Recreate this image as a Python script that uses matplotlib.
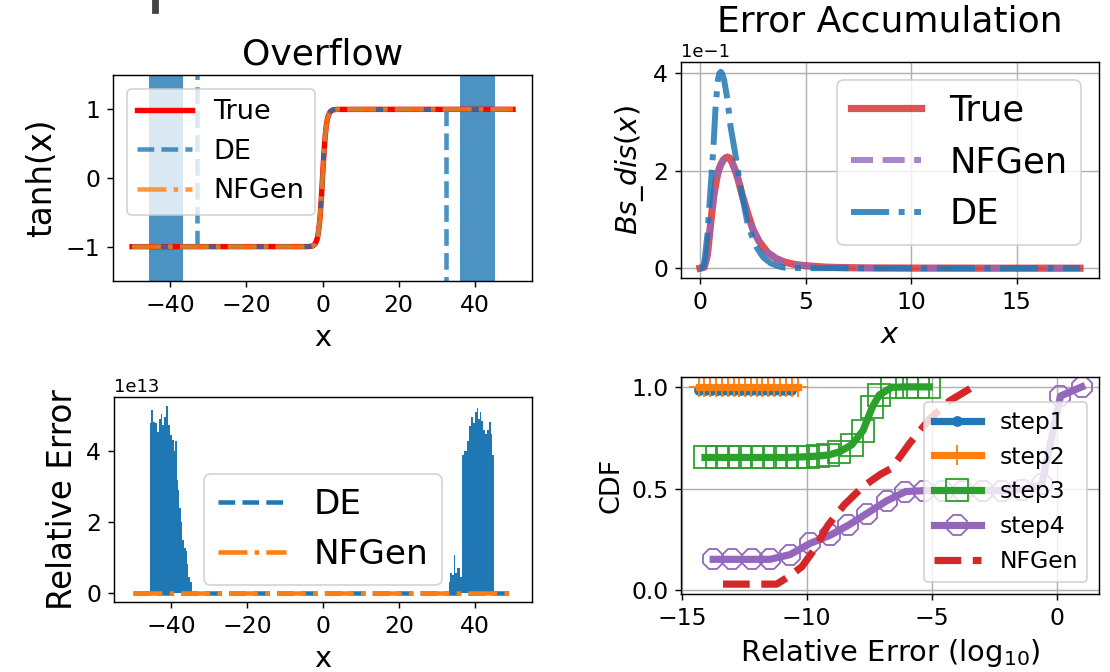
import matplotlib
matplotlib.use('Agg')
import matplotlib.pyplot as plt
from matplotlib.patches import Rectangle

# ---------------- overflow panel: tanh(x) ----------------
tanh_x = [-50, -4, -3, -2.5, -2, -1.5, -1.25, -1, -0.75, -0.5, -0.25, 0,
          0.25, 0.5, 0.75, 1, 1.25, 1.5, 2, 2.5, 3, 4, 50]
tanh_true = [-1, -0.9993, -0.9951, -0.9866, -0.964, -0.9051, -0.8483, -0.7616,
             -0.6351, -0.4621, -0.2449, 0, 0.2449, 0.4621, 0.6351, 0.7616,
             0.8483, 0.9051, 0.964, 0.9866, 0.9951, 0.9993, 1]
tanh_de = list(tanh_true)      # DE follows tanh outside the overflow zones
tanh_nfgen = list(tanh_true)
de_overflow_bands = [(-45.6, -36.5), (36.0, 45.3)]
de_spike_x = [-32.9, 32.4]
de_spike_y = [(-1.0, 1.6), (1.0, -1.6)]

# ---------------- relative error panel ----------------
relerr_x = [-50, 50]
relerr_de_base = [0, 0]
relerr_nfgen = [0, 0]
blob_left_x = [-45.43, -44.9, -44.46, -43.84, -43.4, -42.95, -42.5, -42.0, -41.5,
               -40.95, -40.6, -40.1, -39.5, -39.06, -38.6, -38.35, -38.0, -37.6,
               -37.3, -36.9, -36.4, -35.9, -35.6, -35.3, -34.8, -34.4]
blob_left_top = [4.8, 5.17, 4.83, 4.8, 4.55, 4.9, 5.05, 4.73, 4.96, 5.27, 4.73,
                 4.45, 4.32, 4.0, 4.28, 3.2, 2.9, 2.4, 2.0, 1.5, 1.25, 1.17, 0.8,
                 0.45, 0.3, 0.05]
blob_right_x = [33.2, 33.7, 34.2, 34.5, 35.0, 35.7, 36.4, 36.9, 37.5, 38.2, 38.8,
                39.3, 39.7, 40.2, 40.6, 41.1, 41.5, 41.9, 42.4, 42.8, 43.4, 43.9,
                44.4, 44.8, 45.1]
blob_right_top = [0.3, 0.55, 0.5, 1.06, 0.55, 0.7, 0.45, 3.9, 4.0, 4.3, 4.7, 4.98,
                  4.8, 5.1, 5.22, 4.9, 5.12, 4.85, 4.6, 4.5, 4.6, 4.84, 4.5, 3.9, 0]

# ---------------- error accumulation panel ----------------
bs_x = [0, 0.2, 0.35, 0.5, 0.65, 0.8, 0.9, 1.0, 1.1, 1.2, 1.3, 1.4, 1.5, 1.65,
        1.8, 2.0, 2.25, 2.5, 2.8, 3.2, 3.6, 4.0, 4.5, 5.0, 6.0, 7.0, 8.0, 10, 12,
        14, 16, 18]
bs_true = [0, 0.002, 0.027, 0.09, 0.148, 0.186, 0.203, 0.214, 0.222, 0.226, 0.228,
           0.226, 0.219, 0.203, 0.183, 0.15, 0.114, 0.08, 0.055, 0.032, 0.02,
           0.0125, 0.0075, 0.005, 0.002, 0.001, 0.0005, 0.0002, 0.0001, 0, 0, 0]
bs_nfgen = list(bs_true)
de_x = [0, 0.1, 0.2, 0.35, 0.5, 0.63, 0.74, 0.85, 0.92, 0.98, 1.05, 1.14, 1.3,
        1.45, 1.69, 1.93, 2.24, 2.5, 2.72, 3.0, 3.35, 3.7, 4.0, 5.0, 6.0, 8.0,
        10, 12, 14, 16, 18]
de_y = [0, 0, 0.01, 0.068, 0.163, 0.244, 0.332, 0.387, 0.4, 0.403, 0.399, 0.387,
        0.346, 0.29, 0.23, 0.163, 0.095, 0.06, 0.04, 0.022, 0.01, 0.004, 0.001,
        0, 0, 0, 0, 0, 0, 0, 0]

# ---------------- CDF panel ----------------
step1_x = [-14.3, -14.07, -13.84, -13.61, -13.38, -13.15, -12.92, -12.69, -12.46,
           -12.23, -12.0, -11.77, -11.54, -11.31, -11.08, -10.85, -10.62]
step1_y = [0.985] * 17
step2_x = [-14.33, -14.1, -13.87, -13.63, -13.4, -13.17, -12.93, -12.7, -12.47,
           -12.23, -12.0, -11.77, -11.53, -11.3, -11.07, -10.83, -10.6, -10.36]
step2_y = [1.0] * 18
step3_x = [-14.07, -13.6, -13.14, -12.67, -12.2, -11.74, -11.27, -10.8, -10.34,
           -9.94, -9.54, -9.13, -8.7, -8.2, -7.75, -7.38, -7.1, -6.6, -6.0,
           -5.55, -5.1]
step3_y = [0.653, 0.653, 0.653, 0.653, 0.653, 0.653, 0.653, 0.653, 0.655, 0.657,
           0.66, 0.665, 0.68, 0.715, 0.785, 0.9, 0.96, 0.998, 1.0, 1.0, 1.0]
step4_x = [-13.74, -13.0, -12.2, -11.47, -10.67, -9.87, -9.07, -8.33, -7.6, -6.8,
           -6.05, -5.3, -4.53, -3.73, -2.93, -2.2, -1.4, -0.6, 0.15, 1.0]
step4_y = [0.152, 0.152, 0.152, 0.152, 0.175, 0.23, 0.27, 0.32, 0.377, 0.44,
           0.485, 0.49, 0.49, 0.49, 0.49, 0.49, 0.495, 0.52, 0.955, 1.0]
cdf_nfgen_x = [-13.35, -11.2, -10.75, -10.2, -9.7, -9.15, -8.5, -7.75, -7.05,
               -6.6, -5.9, -5.1, -4.3, -3.35]
cdf_nfgen_y = [0.03, 0.03, 0.065, 0.115, 0.2, 0.32, 0.42, 0.51, 0.57, 0.6, 0.72,
               0.84, 0.93, 1.0]


fig = plt.figure(figsize=(1110 / 130, 672 / 130), dpi=130)
W, H = 1110.0, 672.0

def box(l, t, r, b):
    return [l / W, 1 - b / H, (r - l) / W, (b - t) / H]

# cropped remnant at the very top of the figure
fig.patches.append(Rectangle((153 / W, 1 - 13 / H), 5 / W, 13 / H,
                             transform=fig.transFigure, color='#444444'))

# ---- top left ----
ax1 = fig.add_axes(box(113, 75, 532, 281))
ax1.plot(tanh_x, tanh_true, color='r', lw=3, label='True')
for lo, hi in de_overflow_bands:
    ax1.axvspan(lo, hi, color='C0', alpha=0.8, lw=0)
ax1.plot(tanh_x, tanh_de, '--', color='C0', alpha=0.8, lw=2.5, label='DE')
for sx, (y0, y1) in zip(de_spike_x, de_spike_y):
    ax1.plot([sx, sx], [y0, y1], '--', color='C0', alpha=0.8, lw=2.5)
ax1.plot(tanh_x, tanh_nfgen, '-.', color='C1', alpha=0.8, lw=2.5, label='NFGen')
ax1.set_ylim(-1.5, 1.5)
ax1.set_xlim(-55, 55)
ax1.set_yticks([-1, 0, 1])
ax1.set_xticks([-40, -20, 0, 20, 40])
ax1.set_title('Overflow', fontsize=20)
ax1.set_ylabel('tanh(x)', fontsize=18)
ax1.set_xlabel('x', fontsize=16)
ax1.legend(loc='upper left', fontsize=15)

# ---- top right ----
ax2 = fig.add_axes(box(681, 62, 1099, 278))
ax2.plot(bs_x, bs_true, color='C3', alpha=0.8, lw=4, label='True')
ax2.plot(bs_x, bs_nfgen, '--', color='C4', alpha=0.8, lw=3.3, label='NFGen')
ax2.plot(de_x, de_y, '-.', color='C0', alpha=0.85, lw=3.3, label='DE')
ax2.grid(True)
ax2.set_yticks([0, 0.2, 0.4])
ax2.set_xticks([0, 5, 10, 15])
ax2.ticklabel_format(axis='y', style='sci', scilimits=(0, 0))
ax2.set_title('Error Accumulation', fontsize=20)
ax2.set_ylabel(r'$Bs\_dis(x)$', fontsize=16)
ax2.set_xlabel(r'$x$', fontsize=16)
ax2.legend(loc='upper right', fontsize=19.5)

# ---- bottom left ----
ax3 = fig.add_axes(box(114, 397, 532, 602))
ax3.fill_between(blob_left_x, 0, [v * 1e13 for v in blob_left_top],
                 step='mid', color='C0', lw=0)
ax3.fill_between(blob_right_x, 0, [v * 1e13 for v in blob_right_top],
                 step='mid', color='C0', lw=0)
ax3.plot(relerr_x, relerr_de_base, '--', color='C0', lw=2.5, label='DE')
ax3.plot(relerr_x, relerr_nfgen, '-.', color='C1', lw=2.5, label='NFGen')
ax3.set_xlim(-55, 55)
ax3.set_yticks([0, 2e13, 4e13])
ax3.set_xticks([-40, -20, 0, 20, 40])
ax3.set_ylabel('Relative Error', fontsize=18)
ax3.set_xlabel('x', fontsize=16)
ax3.legend(loc='lower center', fontsize=19)

# ---- bottom right ----
ax4 = fig.add_axes(box(681, 377, 1099, 594))
ax4.plot(step1_x, step1_y, '-o', color='C0', lw=4, ms=5, mfc='none', label='step1')
ax4.plot(step2_x, step2_y, '-+', color='C1', lw=4, ms=11, label='step2')
ax4.plot(step3_x, step3_y, '-s', color='C2', lw=4, ms=12, mfc='none', label='step3')
ax4.plot(step4_x, step4_y, '-8', color='C4', lw=4, ms=12, mfc='none', label='step4')
ax4.plot(cdf_nfgen_x, cdf_nfgen_y, '--', color='C3', lw=4, label='NFGen')
ax4.grid(True)
ax4.set_xlim(-15.03, 1.69)
ax4.set_yticks([0.0, 0.5, 1.0])
ax4.set_xticks([-15, -10, -5, 0])
ax4.set_ylabel('CDF', fontsize=15)
ax4.set_xlabel(r'Relative Error (log$_{10}$)', fontsize=16)
ax4.legend(loc='lower right', fontsize=13)

for ax in (ax1, ax2, ax3, ax4):
    ax.tick_params(labelsize=13)
    ax.yaxis.get_offset_text().set_fontsize(10)

fig.savefig('out.png', dpi=130)
